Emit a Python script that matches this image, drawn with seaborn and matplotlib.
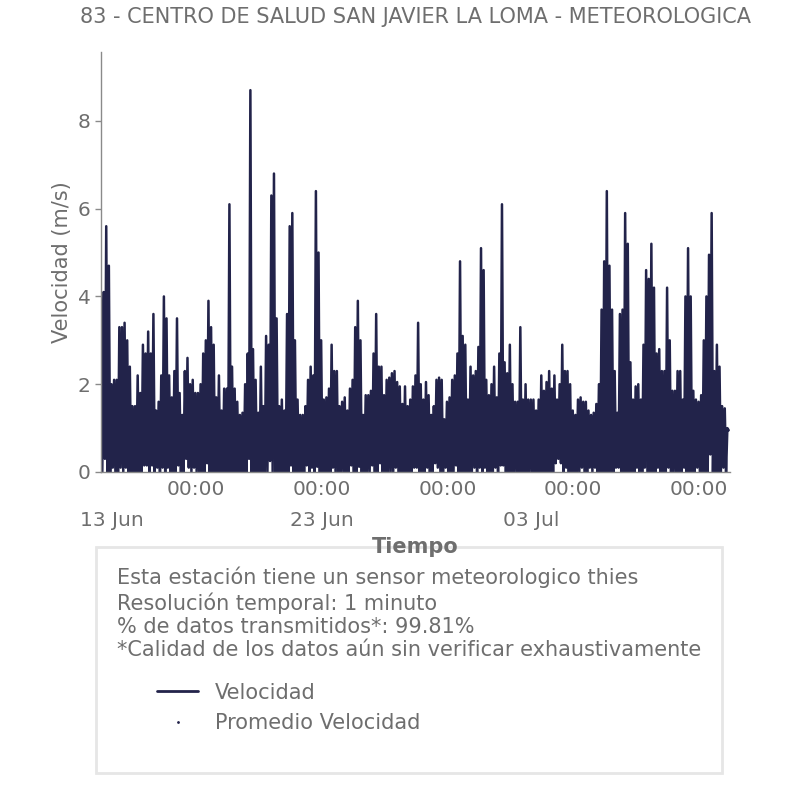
import numpy as np
import pandas as pd
import matplotlib
matplotlib.use('Agg')
import matplotlib.pyplot as plt
import matplotlib.dates as mdates
from matplotlib.lines import Line2D
from matplotlib.patches import Rectangle
from matplotlib.ticker import MultipleLocator
import seaborn as sns

# Station series (1 minute data) summarised as the max / min seen in every 3 h bin
start = '2024-06-12 11:30'
bin_hours = 3

vel_max = [
    4.1, 4.1, 5.6, 4.7, 2.0, 2.1, 2.1, 3.3, 3.3, 3.4, 3.0, 2.4, 1.5, 1.5, 2.2, 1.8, 2.9, 2.7, 3.2, 2.7,
    3.6, 1.4, 1.6, 2.2, 4.0, 3.5, 2.2, 1.7, 2.3, 3.5, 1.8, 1.3, 2.3, 2.6, 2.0, 2.1, 1.8, 1.8, 2.0, 2.7,
    3.0, 3.9, 3.3, 2.9, 1.7, 2.2, 1.4, 1.9, 1.9, 6.1, 2.4, 1.9, 1.6, 1.3, 1.35, 2.0, 2.7, 8.7, 2.8, 2.1,
    1.35, 2.4, 1.5, 3.1, 2.9, 6.3, 6.8, 3.5, 1.5, 1.65, 1.4, 3.6, 5.6, 5.9, 3.0, 1.65, 1.3, 1.3, 1.5, 2.1,
    2.4, 2.2, 6.4, 5.0, 3.0, 1.65, 1.7, 1.9, 2.9, 2.3, 2.3, 1.5, 1.6, 1.7, 1.4, 1.9, 2.1, 3.3, 3.9, 3.0,
    1.3, 1.75, 1.75, 1.85, 2.7, 3.6, 2.4, 2.4, 1.75, 2.1, 2.15, 2.25, 2.3, 2.05, 1.95, 1.55, 1.95, 1.5, 1.65, 1.95,
    2.2, 3.4, 2.0, 1.65, 2.05, 1.75, 1.3, 1.5, 2.1, 2.15, 2.1, 1.2, 1.6, 1.7, 2.1, 2.2, 2.7, 4.8, 3.1, 2.9,
    1.65, 2.4, 2.2, 2.3, 2.85, 5.1, 4.6, 2.1, 1.75, 2.0, 2.4, 1.7, 2.7, 6.1, 2.5, 2.25, 2.9, 2.0, 1.6, 1.6,
    3.3, 1.65, 2.0, 1.65, 1.65, 1.65, 1.4, 1.65, 2.2, 1.85, 2.05, 2.3, 1.9, 2.2, 1.65, 2.0, 2.9, 2.3, 2.3, 2.0,
    1.4, 1.3, 1.65, 1.7, 1.6, 1.6, 1.4, 1.3, 1.35, 1.55, 2.0, 3.7, 4.8, 6.4, 4.7, 3.7, 2.3, 1.35, 3.6, 3.7,
    5.9, 5.2, 2.5, 1.65, 1.95, 2.0, 1.65, 2.9, 4.6, 4.4, 5.2, 4.2, 2.7, 2.8, 2.3, 2.3, 4.2, 3.0, 1.85, 1.85,
    2.3, 2.3, 1.65, 4.0, 5.1, 4.0, 1.85, 1.65, 1.6, 1.75, 3.0, 4.0, 4.95, 5.9, 2.3, 2.9, 2.4, 1.5, 1.45, 1.0,
]

vel_min = [
    0.0, 0.3, 0.0, 0.0, 0.1, 0.0, 0.0, 0.1, 0.0, 0.1, 0.0, 0.0, 0.0, 0.0, 0.0, 0.0, 0.15, 0.15, 0.0, 0.15,
    0.0, 0.1, 0.0, 0.1, 0.0, 0.1, 0.0, 0.0, 0.0, 0.15, 0.0, 0.0, 0.3, 0.1, 0.0, 0.1, 0.0, 0.0, 0.0, 0.0,
    0.2, 0.0, 0.0, 0.0, 0.0, 0.0, 0.0, 0.0, 0.0, 0.0, 0.0, 0.0, 0.0, 0.0, 0.0, 0.0, 0.3, 0.0, 0.0, 0.0,
    0.0, 0.0, 0.0, 0.0, 0.25, 0.0, 0.0, 0.0, 0.0, 0.0, 0.0, 0.0, 0.15, 0.0, 0.0, 0.0, 0.0, 0.0, 0.15, 0.0,
    0.1, 0.0, 0.12, 0.0, 0.0, 0.0, 0.0, 0.0, 0.1, 0.0, 0.0, 0.0, 0.0, 0.0, 0.0, 0.15, 0.0, 0.0, 0.12, 0.0,
    0.0, 0.0, 0.0, 0.15, 0.0, 0.0, 0.2, 0.0, 0.0, 0.0, 0.0, 0.0, 0.1, 0.0, 0.0, 0.0, 0.0, 0.0, 0.0, 0.1,
    0.1, 0.0, 0.0, 0.0, 0.1, 0.0, 0.0, 0.2, 0.1, 0.0, 0.0, 0.1, 0.0, 0.0, 0.0, 0.15, 0.0, 0.0, 0.0, 0.0,
    0.0, 0.0, 0.1, 0.0, 0.1, 0.0, 0.1, 0.0, 0.0, 0.0, 0.1, 0.0, 0.15, 0.15, 0.0, 0.0, 0.0, 0.0, 0.0, 0.0,
    0.0, 0.0, 0.0, 0.0, 0.0, 0.0, 0.0, 0.0, 0.0, 0.0, 0.0, 0.0, 0.0, 0.2, 0.3, 0.2, 0.0, 0.1, 0.0, 0.0,
    0.0, 0.0, 0.0, 0.1, 0.0, 0.0, 0.1, 0.0, 0.1, 0.0, 0.0, 0.0, 0.0, 0.0, 0.0, 0.0, 0.1, 0.1, 0.0, 0.0,
    0.0, 0.0, 0.0, 0.0, 0.1, 0.0, 0.0, 0.1, 0.0, 0.0, 0.0, 0.0, 0.1, 0.0, 0.0, 0.0, 0.1, 0.0, 0.0, 0.0,
    0.0, 0.0, 0.1, 0.0, 0.0, 0.0, 0.0, 0.1, 0.0, 0.0, 0.0, 0.0, 0.4, 0.0, 0.0, 0.0, 0.0, 0.1, 0.0, 0.95,
]

title = '83 - CENTRO DE SALUD SAN JAVIER LA LOMA - METEOROLOGICA'
info_lines = [
    'Esta estación tiene un sensor meteorologico thies',
    'Resolución temporal: 1 minuto',
    '% de datos transmitidos*: 99.81%',
    '*Calidad de los datos aún sin verificar exhaustivamente',
]
legend_labels = ['Velocidad', 'Promedio Velocidad']

LINE = '#22234a'
GREY = '#6e6e6e'
SPINE = '#8a8a8a'

# max at the start of each bin, min half a bin later -> dense zigzag like the raw data
t_hi = pd.date_range(start, periods=len(vel_max), freq=f'{bin_hours}h')
t_lo = t_hi + pd.Timedelta(hours=bin_hours / 2)
df = pd.concat([
    pd.DataFrame({'Tiempo': t_hi, 'Velocidad': vel_max}),
    pd.DataFrame({'Tiempo': t_lo, 'Velocidad': vel_min}),
]).sort_values('Tiempo').reset_index(drop=True)

sns.set_style('white')
plt.rcParams['font.family'] = ['DejaVu Sans']

fig = plt.figure(figsize=(8.06, 8.06), dpi=100)
fig.patch.set_facecolor('white')
ax = fig.add_axes([0.1253, 0.4144, 0.7804, 0.5211])

sns.lineplot(data=df, x='Tiempo', y='Velocidad', color=LINE, linewidth=1.8,
             ax=ax, legend=False)

ax.set_xlim(t_hi[0], t_hi[-1] + pd.Timedelta(hours=bin_hours))
ax.set_ylim(0, max(vel_max) * 1.1)
ax.yaxis.set_major_locator(MultipleLocator(2))

ax.xaxis.set_major_locator(mdates.DayLocator(bymonthday=[3, 13, 23]))
ax.xaxis.set_major_formatter(mdates.DateFormatter('%d %b'))
ax.xaxis.set_minor_locator(mdates.DayLocator(bymonthday=[5, 11, 17, 23, 29]))
ax.xaxis.set_minor_formatter(mdates.DateFormatter('%H:%M'))
ax.xaxis.remove_overlapping_locs = False

for side in ['top', 'right']:
    ax.spines[side].set_visible(False)
for side in ['left', 'bottom']:
    ax.spines[side].set_color(SPINE)
    ax.spines[side].set_linewidth(1)

ax.tick_params(axis='x', which='major', length=4, width=1, pad=24,
               labelsize=14.5, color=SPINE, labelcolor=GREY)
ax.tick_params(axis='x', which='minor', length=2, width=1, pad=4,
               labelsize=14.5, color=SPINE, labelcolor=GREY)
ax.tick_params(axis='y', length=4, width=1, labelsize=14.5,
               color=SPINE, labelcolor=GREY, left=True)

ax.set_title(title, fontsize=15, color=GREY, pad=21)
ax.set_ylabel('Velocidad (m/s)', fontsize=15, color=GREY, labelpad=4)
ax.set_xlabel('Tiempo', fontsize=15, color=GREY, fontweight='bold', labelpad=5)

# info box under the chart; its top edge runs through the x label
box = Rectangle((96 / 806, 1 - 773 / 806), 626 / 806, 226 / 806,
                transform=fig.transFigure, facecolor='white',
                edgecolor='#e6e6e6', linewidth=2, zorder=-1)
fig.patches.append(box)
fig.text(117 / 806, 1 - 567 / 806, '\n'.join(info_lines), fontsize=15,
         color=GREY, va='top', ha='left', linespacing=1.2, zorder=6)

handles = [
    Line2D([], [], color=LINE, linewidth=2),
    Line2D([], [], color=LINE, marker='.', markersize=2, linestyle='none'),
]
leg = fig.legend(handles, legend_labels, loc='upper left',
                 bbox_to_anchor=(138 / 806, 1 - 664 / 806), frameon=False,
                 fontsize=15, labelcolor=GREY)
leg.set_zorder(6)

fig.savefig('out.png', dpi=100, facecolor='white')
